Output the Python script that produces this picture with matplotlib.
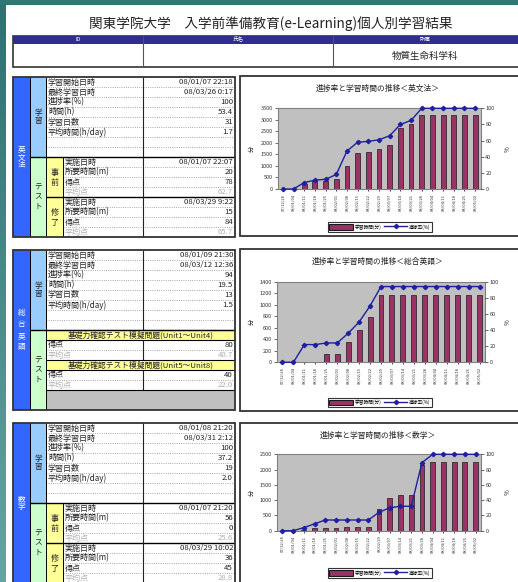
import numpy as np
import matplotlib.pyplot as plt
from matplotlib.patches import Rectangle
from matplotlib.lines import Line2D
from matplotlib.colors import LinearSegmentedColormap

plt.rcParams['font.family'] = ['Noto Sans CJK JP', 'DejaVu Sans']

# ---- data ----
dates = ['07/12/28', '08/01/04', '08/01/11', '08/01/18', '08/01/25', '08/02/01',
         '08/02/08', '08/02/15', '08/02/22', '08/02/29', '08/03/07', '08/03/14',
         '08/03/21', '08/03/28', '08/04/04', '08/04/11', '08/04/18', '08/04/25',
         '08/05/02']

study_labels = ['学習開始日時', '最終学習日時', '進捗率(%)', '時間(h)', '学習日数', '平均時間(h/day)']
test_labels = ['実施日時', '所要時間(m)', '得点', '平均点']

grammar_study = ['08/01/07 22:18', '08/03/26 0:17', '100', '53.4', '31', '1.7']
grammar_pre = ['08/01/07 22:07', '20', '78', '62.7']
grammar_post = ['08/03/29 9:22', '15', '84', '65.7']
grammar_minutes = [0, 0, 230, 345, 350, 440, 1010, 1560, 1620, 1720, 1920, 2630, 2830,
                   3204, 3204, 3204, 3204, 3204, 3204]
grammar_progress = [0, 0, 8, 11, 12, 18, 47, 58, 59, 61, 66, 80, 85,
                    100, 100, 100, 100, 100, 100]

english_study = ['08/01/09 21:30', '08/03/12 12:36', '94', '19.5', '13', '1.5']
english_tests = ['基礎力確認テスト模擬問題(Unit1～Unit4)', '基礎力確認テスト模擬問題(Unit5～Unit8)']
english_scores = ['80', '40']
english_avgs = ['40.7', '22.0']
english_minutes = [0, 0, 12, 12, 140, 140, 360, 560, 790, 1170, 1170, 1170, 1170,
                   1170, 1170, 1170, 1170, 1170, 1170]
english_progress = [0, 0, 22, 22, 24, 24, 36, 50, 70, 94, 94, 94, 94,
                    94, 94, 94, 94, 94, 94]

math_study = ['08/01/08 21:20', '08/03/31 2:12', '100', '37.2', '19', '2.0']
math_pre = ['08/01/07 21:20', '56', '0', '25.6']
math_post = ['08/03/29 10:02', '36', '45', '28.8']
math_minutes = [0, 0, 30, 87, 87, 87, 131, 131, 131, 700, 1080, 1168, 1168,
                2150, 2232, 2232, 2232, 2232, 2232]
math_progress = [0, 0, 4, 9, 14, 14, 14, 14, 14, 24, 30, 32, 32,
                  89, 100, 100, 100, 100, 100]

# ---- page ----
W, H = 518, 582
fig = plt.figure(figsize=(W / 100, H / 100), dpi=100)
fig.patch.set_facecolor('#2f7775')
bg = fig.add_axes([0, 0, 1, 1])
bg.axis('off')

cmap = LinearSegmentedColormap.from_list('teal', ['#2c7270', '#62a6a3'])
bg.imshow(np.linspace(0, 1, 100).reshape(-1, 1), extent=(0, 6, H, 0),
          cmap=cmap, aspect='auto', zorder=0)
bg.set_xlim(0, W)
bg.set_ylim(H, 0)

DARK = '#222222'
GREY_TXT = '#b0b0b0'
SUBJ_BLUE = '#3366ff'
STUDY_BLUE = '#99ccff'
TEST_GREEN = '#ccffcc'
YELLOW = '#ffff99'


def box(x0, y0, x1, y1, fc='none', ec='none', lw=0, z=1):
    bg.add_patch(Rectangle((x0, y0), x1 - x0, y1 - y0, facecolor=fc,
                           edgecolor=ec, linewidth=lw, zorder=z))


def hline(y, x0, x1, color=DARK, lw=0.6, ls='-'):
    bg.plot([x0, x1], [y, y], color=color, lw=lw, ls=ls, zorder=3,
            solid_capstyle='butt')


def vline(x, y0, y1, color=DARK, lw=0.6):
    bg.plot([x, x], [y0, y1], color=color, lw=lw, zorder=3, solid_capstyle='butt')


def txt(x, y, s, size=6, ha='left', color=DARK, **kw):
    bg.text(x, y, s, fontsize=size, ha=ha, va='center', color=color, zorder=4, **kw)


def vtext(x, yc, s, step, size=5.5, color=DARK):
    for i, ch in enumerate(s):
        txt(x, yc + (i - (len(s) - 1) / 2) * step, ch, size, ha='center', color=color)


box(0, 0, W, 5, fc='#2f7775', z=0)
box(6, 5, W, H, fc='white', z=0.5)

# title and header table
txt(271, 24, '関東学院大学　入学前準備教育(e-Learning)個人別学習結果', 9.8, ha='center')
box(13, 36, 530, 67, fc='white', ec='#333333', lw=1.2)
box(13, 36, 530, 43.5, fc='#2e2e8f')
for xd in (143, 333):
    vline(xd, 36, 67, '#555555', 0.8)
for xh, s in ((78, 'ID'), (238, '氏名'), (425, '所属')):
    txt(xh, 39.8, s, 4, ha='center', color='white')
txt(425, 56, '物質生命科学科', 6.8, ha='center')

# ---- left tables ----
L, C1, C2, C3, C4, R = 13, 30, 46, 63, 143, 235
RH = 10.0


def study_block(top, subject, subj_step, vals):
    mid, bottom = top + 8 * RH, top + 16 * RH
    box(L, top, C1, bottom, fc=SUBJ_BLUE)
    box(C1, top, C2, mid, fc=STUDY_BLUE)
    box(C1, mid, C2, bottom, fc=TEST_GREEN)
    box(C2, top, R, bottom, fc='white')
    vtext((L + C1) / 2, (top + bottom) / 2, subject, subj_step, 5.5, 'white')
    vtext((C1 + C2) / 2, (top + mid) / 2, '学習', 8.5, 5.5)
    vtext((C1 + C2) / 2, (mid + bottom) / 2, 'テスト', 9.5, 5.5)
    for i in range(8):
        y = top + i * RH
        if i > 0:
            hline(y, C2, R, '#8a8a8a', 0.6, ':')
        if i < len(vals):
            txt(C2 + 2, y + RH / 2, study_labels[i], 5.8)
            txt(R - 2, y + RH / 2, vals[i], 5.6, ha='right')
    vline(C4, top, mid, DARK, 0.8)
    hline(mid, C1, R, 'black', 1.0)
    return mid, bottom


def finish_block(top, bottom):
    vline(C1, top, bottom, 'black', 0.7)
    vline(C2, top, bottom, 'black', 0.7)
    box(L, top, R, bottom, ec='#333333', lw=1.3, z=3)


def prepost_block(top, subject, subj_step, vals, pre, post):
    mid, bottom = study_block(top, subject, subj_step, vals)
    box(C2, mid, C3, bottom, fc=YELLOW)
    for half, (name, tv) in enumerate((('事前', pre), ('修了', post))):
        y0 = mid + half * 4 * RH
        vtext((C2 + C3) / 2, y0 + 2 * RH, name, 10, 5.8)
        for j in range(4):
            y = y0 + j * RH
            if j > 0:
                hline(y, C3, R, '#8a8a8a', 0.6, ':')
            col = GREY_TXT if j == 3 else DARK
            txt(C3 + 2, y + RH / 2, test_labels[j], 5.8, color=col)
            txt(R - 2, y + RH / 2, tv[j], 5.6, ha='right', color=col)
        if half == 1:
            hline(y0, C2, R, 'black', 1.0)
    vline(C3, mid, bottom, 'black', 0.7)
    vline(C4, mid, bottom, DARK, 0.8)
    finish_block(top, bottom)


def unit_block(top, subject, subj_step, vals):
    mid, bottom = study_block(top, subject, subj_step, vals)
    for k in range(2):
        y0 = mid + k * 3 * RH
        box(C2, y0, R, y0 + RH, fc=YELLOW)
        hline(y0, C2, R, 'black', 0.8)
        hline(y0 + RH, C2, R, 'black', 0.8)
        txt((C2 + R) / 2, y0 + RH / 2, english_tests[k], 5.6, ha='center')
        txt(C2 + 2, y0 + 1.5 * RH, '得点', 5.8)
        txt(R - 2, y0 + 1.5 * RH, english_scores[k], 5.6, ha='right')
        hline(y0 + 2 * RH, C2, R, '#8a8a8a', 0.6, ':')
        txt(C2 + 2, y0 + 2.5 * RH, '平均点', 5.8, color=GREY_TXT)
        txt(R - 2, y0 + 2.5 * RH, english_avgs[k], 5.6, ha='right', color=GREY_TXT)
        vline(C4, y0 + RH, y0 + 3 * RH, DARK, 0.8)
    box(C2, mid + 6 * RH, R, bottom, fc='#c0c0c0', z=2)
    hline(mid + 6 * RH, C2, R, 'black', 0.8)
    finish_block(top, bottom)


prepost_block(77, '英文法', 7.8, grammar_study, grammar_pre, grammar_post)
unit_block(250, '総合英語', 11.6, english_study)
prepost_block(423, '数学', 8.0, math_study, math_pre, math_post)

# ---- charts ----
idx = np.arange(len(dates))


def draw_chart(frame, plot, title, minutes, progress, ymax, ystep, legend_y):
    ft, fb = frame
    box(240, ft, 530, fb, fc='white', ec='#333333', lw=1.3, z=2)
    x0, y0, x1, y1 = plot
    ax = fig.add_axes([x0 / W, 1 - y1 / H, (x1 - x0) / W, (y1 - y0) / H])
    ax.set_facecolor('#c0c0c0')
    ax.bar(idx, minutes, width=0.45, color='#993366', edgecolor='#1a1a1a', linewidth=0.5)
    ax.set_xlim(-0.5, len(dates) - 0.5)
    ax.set_ylim(0, ymax)
    ax.set_yticks(np.arange(0, ymax + 1, ystep))
    ax.set_xticks(idx)
    ax.set_xticklabels(dates, rotation=90, fontsize=2.9, color='#333333')
    ax.tick_params(axis='y', labelsize=4, length=2, width=0.5, pad=1.5, colors='#333333')
    ax.tick_params(axis='x', length=1.5, width=0.5, pad=2)
    for sp in ax.spines.values():
        sp.set_color('#808080')
        sp.set_linewidth(0.8)

    ax2 = ax.twinx()
    ax2.plot(idx, progress, color='#1f1fa0', lw=1.0, marker='D', ms=2.2, clip_on=False)
    ax2.set_ylim(0, 100)
    ax2.set_yticks(range(0, 101, 20))
    ax2.tick_params(axis='y', labelsize=4, length=2, width=0.5, pad=1.5, colors='#333333')
    for sp in ax2.spines.values():
        sp.set_visible(False)

    txt(378, ft + 13, title, 5.6, ha='center')
    txt(252, (y0 + y1) / 2, '分', 4.5, ha='center', rotation=90)
    txt(508, (y0 + y1) / 2, '%', 4.5, ha='center', rotation=90)

    handles = [Rectangle((0, 0), 1, 1, facecolor='#993366', edgecolor='#1a1a1a', linewidth=0.8),
               Line2D([], [], color='#1f1fa0', lw=1.0, marker='D', ms=2.2)]
    leg = fig.legend(handles, ['学習時間(分)', '進捗率(%)'], loc='center',
                     bbox_to_anchor=(380 / W, 1 - legend_y / H), ncol=2, fontsize=3.4,
                     frameon=True, fancybox=False, edgecolor='black', handlelength=5,
                     handleheight=1.5, borderpad=0.35, columnspacing=0.5,
                     handletextpad=0.4)
    leg.get_frame().set_linewidth(0.8)


draw_chart((76, 236), (277.5, 108.3, 480.5, 189), '進捗率と学習時間の推移＜英文法＞',
           grammar_minutes, grammar_progress, 3500, 500, 227)
draw_chart((249, 411), (277, 281.7, 485, 362.3), '進捗率と学習時間の推移＜総合英語＞',
           english_minutes, english_progress, 1400, 200, 402.5)
draw_chart((423, 590), (277, 454.3, 481, 530.7), '進捗率と学習時間の推移＜数学＞',
           math_minutes, math_progress, 2500, 500, 573)

fig.savefig('out.png', dpi=100)
